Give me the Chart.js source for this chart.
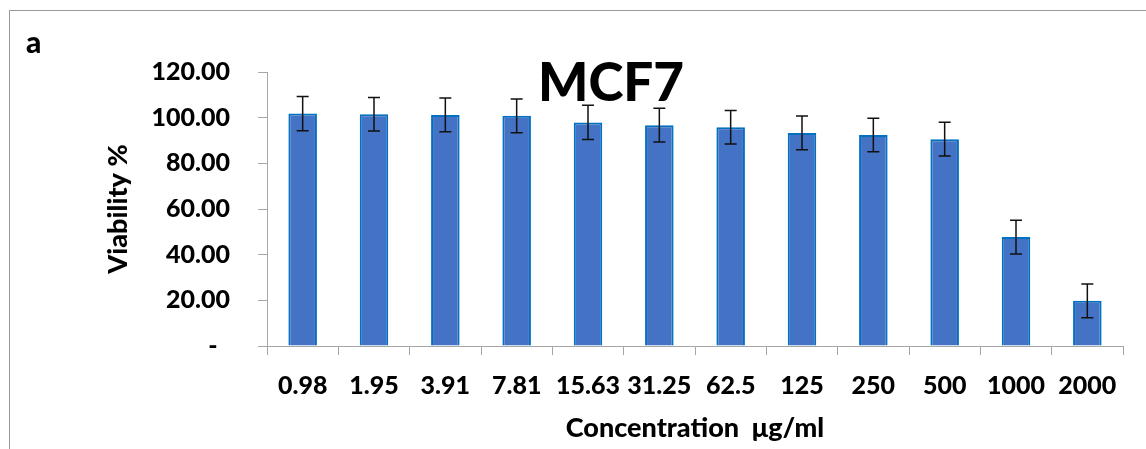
<!DOCTYPE html>
<html>
<head>
<meta charset="utf-8">
<script src="https://cdn.jsdelivr.net/npm/chart.js@4.4.1/dist/chart.umd.min.js"></script>
<style>
  html, body { margin: 0; padding: 0; background: #fff; }
  #wrap { position: relative; width: 1146px; height: 449px; overflow: hidden; }
  #frame { position: absolute; left: 9px; top: 10px; width: 1300px; height: 600px;
           border-left: 1px solid #999; border-top: 1px solid #999; }
  #c { position: absolute; left: 0; top: 0; }
</style>
</head>
<body>
<div id="wrap">
  <div id="frame"></div>
  <canvas id="c" width="1146" height="449"></canvas>
</div>
<script>
// Concentrations tested (µg/ml) and mean cell viability (%) with SD
const concentrations = ['0.98', '1.95', '3.91', '7.81', '15.63', '31.25', '62.5', '125', '250', '500', '1000', '2000'];
const viability      = [101.8, 101.5, 101.2, 100.8, 97.9, 96.7, 95.8, 93.3, 92.4, 90.6, 47.7, 19.8];
const viabilitySD    = [7.5, 7.3, 7.4, 7.4, 7.5, 7.4, 7.3, 7.4, 7.3, 7.4, 7.4, 7.4];
const yTickValues    = [0, 20, 40, 60, 80, 100, 120];

const FONT = 'Lato, "Open Sans", "DejaVu Sans", sans-serif';
const WEIGHT = '900';
const axisGray = '#a6a6a6';

// Symmetric error bars drawn from the y scale
const errorBars = {
  id: 'errorBars',
  afterDatasetsDraw(chart) {
    const { ctx } = chart;
    const meta = chart.getDatasetMeta(0);
    const y = chart.scales.y;
    ctx.save();
    ctx.strokeStyle = '#111';
    ctx.lineWidth = 1.5;
    meta.data.forEach((bar, i) => {
      const x = bar.x;
      const top = y.getPixelForValue(viability[i] + viabilitySD[i]);
      const bot = y.getPixelForValue(viability[i] - viabilitySD[i]);
      const cap = 6;
      ctx.beginPath();
      ctx.moveTo(x, top); ctx.lineTo(x, bot);
      ctx.moveTo(x - cap, top); ctx.lineTo(x + cap, top);
      ctx.moveTo(x - cap, bot); ctx.lineTo(x + cap, bot);
      ctx.stroke();
    });
    ctx.restore();
  }
};

// Panel letter and cell-line heading
const headings = {
  id: 'headings',
  afterDraw(chart) {
    const { ctx } = chart;
    ctx.save();
    ctx.fillStyle = '#000';
    ctx.textBaseline = 'alphabetic';
    ctx.textAlign = 'left';
    ctx.font = WEIGHT + ' 30px ' + FONT;
    ctx.fillText('a', 26, 53);
    ctx.textAlign = 'center';
    ctx.font = WEIGHT + ' 53px ' + FONT;
    ctx.fillText('MCF7', 611, 101);
    ctx.restore();
  }
};

new Chart(document.getElementById('c'), {
  type: 'bar',
  data: {
    labels: concentrations,
    datasets: [{
      data: viability,
      backgroundColor: '#4472C4',
      borderColor: '#0070C0',
      borderWidth: 2,
      barPercentage: 0.4,
      categoryPercentage: 1.0
    }]
  },
  options: {
    responsive: false,
    animation: false,
    devicePixelRatio: 1,
    layout: { padding: { left: 0, top: 72, right: 23, bottom: 0 } },
    plugins: { legend: { display: false }, tooltip: { enabled: false }, title: { display: false } },
    scales: {
      x: {
        type: 'category',
        offset: true,
        grid: { display: true, drawOnChartArea: false, drawTicks: true, tickLength: 9, color: axisGray, offset: true },
        border: { display: true, color: axisGray, width: 1 },
        ticks: { font: { family: FONT, size: 25, weight: WEIGHT }, color: '#000', padding: 16, maxRotation: 0, autoSkip: false },
        title: { display: true, text: 'Concentration  μg/ml', color: '#000',
                 font: { family: FONT, size: 27, weight: WEIGHT }, padding: { top: 0, bottom: 4.8 } },
        afterFit(s) { s.height = 103; }
      },
      y: {
        min: 0, max: 120,
        afterBuildTicks(s) { s.ticks = yTickValues.map(v => ({ value: v })); },
        grid: { display: true, drawOnChartArea: false, drawTicks: true, tickLength: 9, color: axisGray },
        border: { display: true, color: axisGray, width: 1 },
        ticks: {
          font: { family: FONT, size: 25, weight: WEIGHT }, color: '#000', padding: 28,
          callback: v => (v === 0 ? '-\u2002' : Number(v).toFixed(2))
        },
        title: { display: true, text: 'Viability %', color: '#000',
                 font: { family: FONT, size: 27, weight: WEIGHT }, padding: { top: 101.8, bottom: 0 } },
        afterFit(s) { s.width = 267; }
      }
    }
  },
  plugins: [errorBars, headings]
});
</script>
</body>
</html>
